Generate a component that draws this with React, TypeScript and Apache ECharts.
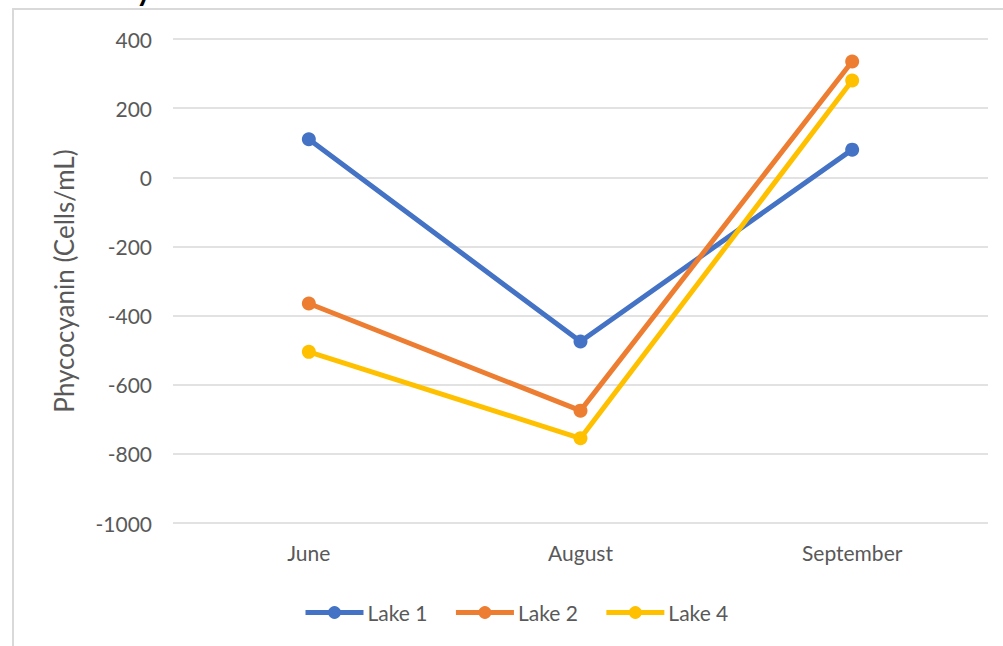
import React, { useEffect, useRef } from "react";
import * as echarts from "echarts";

const categories = ["June", "August", "September"];
const lake1 = [110, -475, 80];
const lake2 = [-365, -675, 335];
const lake4 = [-505, -755, 280];
const seriesNames = ["Lake 1", "Lake 2", "Lake 4"];
const colors = ["#4472C4", "#ED7D31", "#FFC000"];

const FONT = "Lato, 'Open Sans', sans-serif";
const TEXT = "#595959";

export default function App() {
  const ref = useRef<HTMLDivElement>(null);
  useEffect(() => {
    if (!ref.current) return;
    const chart = echarts.init(ref.current, null, { renderer: "svg" });
    const data = [lake1, lake2, lake4];
    chart.setOption({
      animation: false,
      backgroundColor: "#ffffff",
      textStyle: { fontFamily: FONT },
      graphic: [
        {
          type: "rect",
          shape: { x: 13, y: 9, width: 1100, height: 800 },
          style: { fill: "none", stroke: "#d9d9d9", lineWidth: 2 },
          silent: true,
        },
        {
          type: "text",
          x: 136,
          y: -26,
          style: {
            text: "y",
            font: "bold 30px " + FONT,
            fill: "#000000",
          },
          silent: true,
        },
      ],
      grid: { left: 173, right: 15, top: 39, bottom: 123, containLabel: false },
      legend: {
        top: 597,
        left: 298,
        itemWidth: 58,
        itemHeight: 16,
        itemGap: 26,
        textStyle: { color: TEXT, fontSize: 21, fontFamily: FONT, padding: [0, 0, 0, -1] },
        data: seriesNames.map((n, i) => ({
          name: n,
          lineStyle: { width: 5, color: colors[i] },
          itemStyle: { color: colors[i] },
        })),
      },
      xAxis: {
        type: "category",
        data: categories,
        boundaryGap: true,
        axisLine: { show: false },
        axisTick: { show: false },
        axisLabel: { color: TEXT, fontSize: 21, fontFamily: FONT, margin: 19 },
      },
      yAxis: {
        type: "value",
        min: -1000,
        max: 400,
        interval: 200,
        name: "Phycocyanin (Cells/mL)",
        nameLocation: "middle",
        nameGap: 96,
        nameTextStyle: { color: TEXT, fontSize: 26, fontFamily: FONT },
        axisLine: { show: false },
        axisTick: { show: false },
        axisLabel: {
          color: TEXT,
          fontSize: 21,
          fontFamily: FONT,
          margin: 21,
          formatter: (v: number) => String(v),
        },
        splitLine: { lineStyle: { color: "#d9d9d9", width: 1.5 } },
      },
      series: seriesNames.map((name, i) => ({
        name,
        type: "line",
        data: data[i],
        color: colors[i],
        symbol: "circle",
        symbolSize: 14,
        lineStyle: { width: 5, color: colors[i] },
        itemStyle: { color: colors[i] },
      })),
    });
    return () => chart.dispose();
  }, []);
  return (
    <div
      ref={ref}
      style={{ position: "absolute", left: 0, top: 0, width: 1003, height: 646 }}
    />
  );
}
